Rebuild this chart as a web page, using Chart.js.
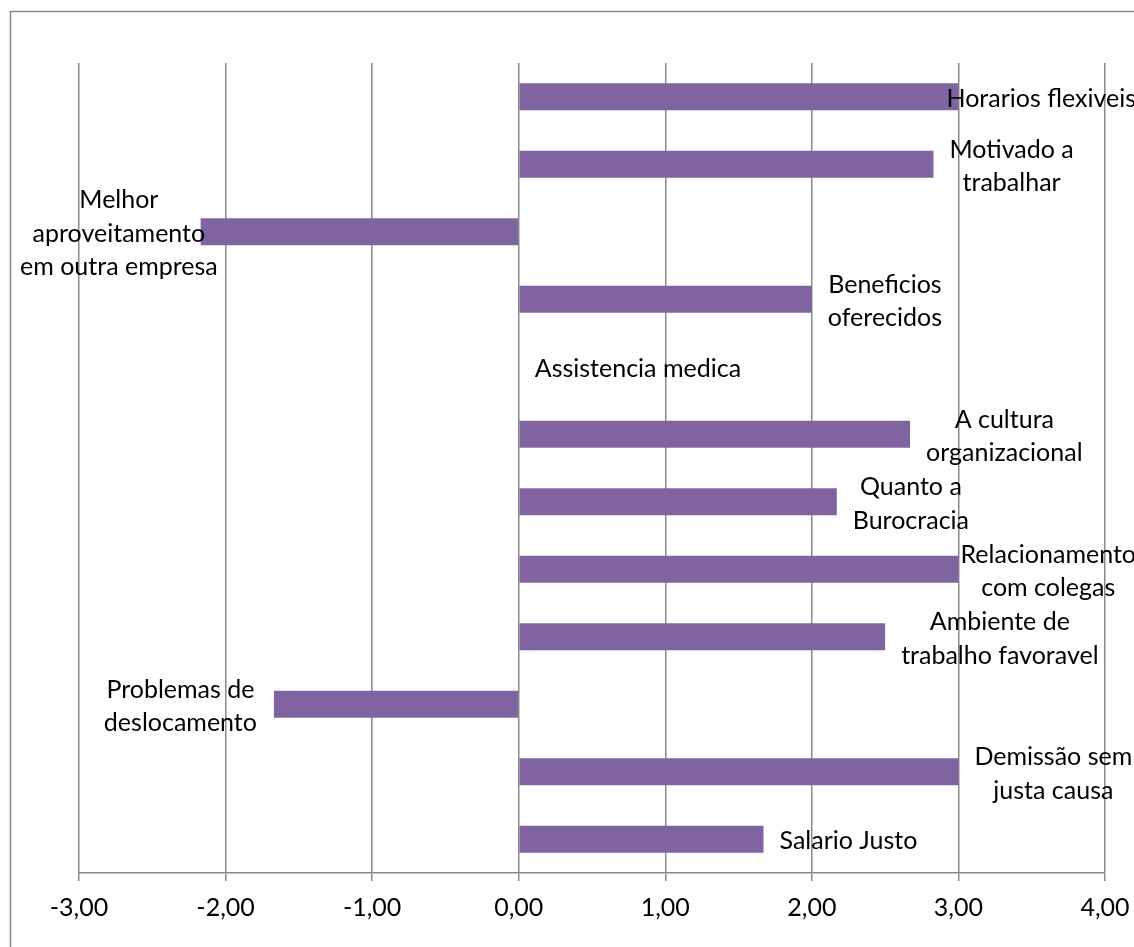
<!DOCTYPE html>
<html>
<head>
<meta charset="utf-8">
<title>Fatores de permanência</title>
<script src="https://cdn.jsdelivr.net/npm/chart.js@4.4.1/dist/chart.umd.min.js"></script>
<style>
    body { margin: 0; background: #ffffff; }
    #chart-wrap { width: 1134px; height: 947px; }
</style>
</head>
<body>
<div id="chart-wrap"><canvas id="factors-chart" width="1134" height="947"></canvas></div>
<script>
// Factor labels (already wrapped the way they appear beside each bar)
const factorLabels = [
    ['Horarios flexiveis'],
    ['Motivado a', 'trabalhar'],
    ['Melhor', 'aproveitamento', 'em outra empresa'],
    ['Beneficios', 'oferecidos'],
    ['Assistencia medica'],
    ['A cultura', 'organizacional'],
    ['Quanto a', 'Burocracia'],
    ['Relacionamento', 'com colegas'],
    ['Ambiente de', 'trabalho favoravel'],
    ['Problemas de', 'deslocamento'],
    ['Demissão sem', 'justa causa'],
    ['Salario Justo']
];

// Average score per factor
const factorScores = [3.00, 2.83, -2.17, 2.00, 0.00, 2.67, 2.17, 3.00, 2.50, -1.67, 3.00, 1.67];

// X axis tick labels (comma decimals)
const tickLabels = ['-3,00', '-2,00', '-1,00', '0,00', '1,00', '2,00', '3,00', '4,00'];

const FONT = '25px Lato';
const GRID_COLOR = '#8a8a8a';

// White background plus the outer chart frame
const framePlugin = {
    id: 'frame',
    beforeDraw(chart) {
        const ctx = chart.ctx;
        ctx.save();
        ctx.fillStyle = '#ffffff';
        ctx.fillRect(0, 0, chart.width, chart.height);
        ctx.strokeStyle = '#888888';
        ctx.lineWidth = 1.5;
        ctx.strokeRect(10.5, 11.5, chart.width + 50, chart.height + 50);
        ctx.restore();
    }
};

// Category names written next to the end of each bar
const barLabelPlugin = {
    id: 'barLabels',
    afterDatasetsDraw(chart) {
        const ctx = chart.ctx;
        const meta = chart.getDatasetMeta(0);
        const lineHeight = 33.5;
        ctx.save();
        ctx.font = FONT;
        ctx.fillStyle = '#000000';
        ctx.textAlign = 'center';
        ctx.textBaseline = 'middle';
        meta.data.forEach((bar, i) => {
            const lines = factorLabels[i];
            const value = factorScores[i];
            const width = Math.max(...lines.map(l => ctx.measureText(l).width));
            let left = value >= 0 ? bar.x + 16 : bar.x - 17 - width;
            if (left < 20) left = 20;
            if (left + width > chart.width + 2) left = chart.width + 2 - width;
            const cx = left + width / 2;
            const top = bar.y + 2 - (lines.length - 1) * lineHeight / 2;
            lines.forEach((line, j) => {
                ctx.fillText(line, cx, top + j * lineHeight);
            });
        });
        ctx.restore();
    }
};

document.addEventListener('DOMContentLoaded', function() {
    const ctx = document.getElementById('factors-chart').getContext('2d');
    new Chart(ctx, {
        type: 'bar',
        data: {
            labels: factorLabels.map(l => l.join(' ')),
            datasets: [{
                data: factorScores,
                backgroundColor: '#8064a2',
                borderWidth: 0,
                categoryPercentage: 1.0,
                barPercentage: 0.4
            }]
        },
        options: {
            indexAxis: 'y',
            responsive: false,
            maintainAspectRatio: false,
            animation: false,
            layout: {
                padding: { left: 79, right: 29, top: 63, bottom: 0 }
            },
            plugins: {
                legend: { display: false },
                tooltip: { enabled: false }
            },
            scales: {
                x: {
                    min: -3,
                    max: 4,
                    ticks: {
                        stepSize: 1,
                        color: '#000000',
                        font: { family: 'Lato', size: 25 },
                        padding: 12,
                        callback: (value, index) => tickLabels[index]
                    },
                    grid: {
                        color: GRID_COLOR,
                        lineWidth: 1.5,
                        tickLength: 8,
                        drawTicks: true
                    },
                    border: {
                        display: true,
                        color: GRID_COLOR,
                        width: 1.5
                    },
                    afterFit: (scale) => {
                        // fixed axis band; edge labels may overhang the layout padding
                        scale.height = 74;
                        scale.paddingLeft = 0;
                        scale.paddingRight = 0;
                    }
                },
                y: {
                    display: false
                }
            }
        },
        plugins: [framePlugin, barLabelPlugin]
    });
});
</script>
</body>
</html>
